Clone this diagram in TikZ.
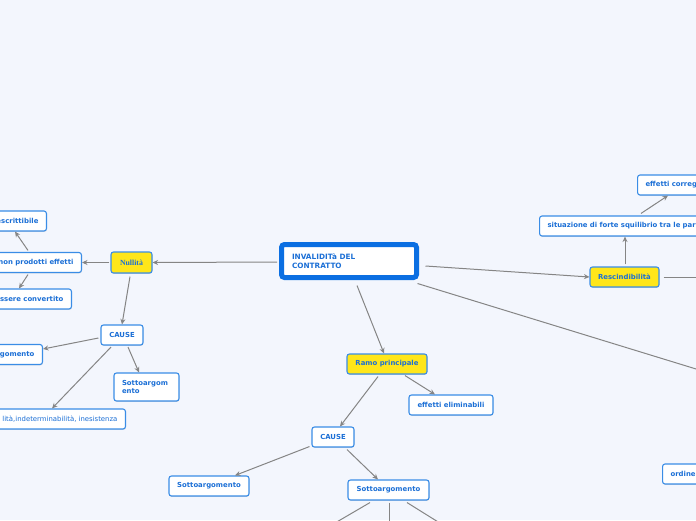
\documentclass[tikz,border=0pt]{standalone}
\usepackage{fontspec}
\setmainfont{DejaVu Sans}
\newfontfamily\serifb{Liberation Serif}
\usetikzlibrary{calc,arrows.meta,shadows}
\definecolor{bg}{HTML}{F3F6FD}
\definecolor{bd}{HTML}{3A8DE6}
\definecolor{tx}{HTML}{1B6FD6}
\definecolor{yl}{HTML}{FFE61A}
\definecolor{cb}{HTML}{0B6FE2}
\definecolor{ar}{HTML}{858585}
\tikzset{
  topic/.style={draw=bd, line width=1.1pt, fill=white, rounded corners=2.5pt, text=tx,
    font=\bfseries\fontsize{6.9}{8.5}\selectfont, inner xsep=0pt, inner ysep=0pt,
    minimum height=20pt, drop shadow={shadow xshift=0.4pt, shadow yshift=-0.9pt, opacity=0.25}},
  maintopic/.style={topic, fill=yl},
  clipl/.style={topic, anchor=east, inner xsep=8pt},
  clipr/.style={topic, anchor=west, inner xsep=8pt, text width=200pt, align=left},
  arr/.style={draw=ar, line width=1pt, -{Stealth[length=5.5pt,width=5pt]}},
  ln/.style={draw=ar, line width=1pt},
}
\begin{document}
\begin{tikzpicture}[x=1pt,y=-1pt]
\useasboundingbox (0,0) rectangle (696,520);
\fill[bg] (0,0) rectangle (696,520);
\clip (0,0) rectangle (696,520);

% central
\node[topic, draw=cb, line width=5pt, rounded corners=3pt, minimum width=135pt, minimum height=33pt,
  text width=114pt, align=left, font=\bfseries\fontsize{7.3}{8.3}\selectfont] (c) at (349,261) {INVALIDITà DEL\\CONTRATTO};

% left branch
\node[maintopic, minimum width=41pt, minimum height=21pt, font=\serifb\bfseries\fontsize{7.8}{9}\selectfont] (null) at (131.5,262.5) {Nullità};
\node[clipl] (esc) at (47,221) {escrittibile};
\node[clipl] (np) at (82,262.5) {non prodotti effetti};
\node[clipl] (ess) at (72,299) {essere convertito};
\node[topic, minimum width=42pt] (causeL) at (122,335) {CAUSE};
\node[clipl] (gom) at (43,354.5) {gomento};
\node[topic, minimum width=65pt, minimum height=28pt, text width=49pt, align=left] (saL2) at (146.5,387) {Sottoargom\\ento};
\node[clipl, font=\fontsize{6.9}{8.5}\selectfont] (bot) at (126,419) {lità,indeterminabilità, inesistenza};

% right branch
\node[maintopic, minimum width=69pt] (resc) at (624.5,277) {Rescindibilità};
\node[clipr] (sit) at (539,226) {situazione di forte squilibrio tra le par};
\node[clipr] (ec) at (637,185) {effetti correg};
\node[clipr] (ord) at (662,474) {ordine};

% bottom branch
\node[maintopic, minimum width=80pt] (ramo) at (387,364) {Ramo principale};
\node[topic, minimum width=84pt] (eff) at (451,405) {effetti eliminabili};
\node[topic, minimum width=42pt] (causeM) at (333,437) {CAUSE};
\node[topic, minimum width=81pt] (saM) at (388.5,490) {Sottoargomento};
\node[topic, minimum width=80pt] (saL) at (209,486) {Sottoargomento};

% off-screen ends
\coordinate (offR) at (720,277);
\coordinate (offD) at (730,379.4);
\coordinate (offB1) at (323,530);
\coordinate (offB2) at (389,530);
\coordinate (offB3) at (451,530);

% connectors
\draw[arr] ($(c.west)+(-2,1)$) -- (null.east);
\draw[arr] ($(null.west)+(-1,0)$) -- (np.east);
\draw[arr] ($(np.north east)+(-54,-1.5)$) -- ($(esc.south east)+(-32,0)$);
\draw[arr] ($(np.south east)+(-54,1.5)$) -- ($(ess.north east)+(-53,0)$);
\draw[arr] ($(null.south)+(-1.5,3)$) -- (causeL.north);
\draw[arr] ($(causeL.west)+(-2,3)$) -- ($(gom.east)+(0,-5.5)$);
\draw[arr] ($(causeL.south)+(-11,1.5)$) -- ($(bot.north east)+(-74,0)$);
\draw[arr] ($(causeL.south)+(6,1.5)$) -- ($(saL2.north)+(-7.5,0)$);

\draw[arr] ($(c.east)+(6.5,5)$) -- (resc.west);
\draw[arr] ($(resc.north)+(0.5,-2)$) -- ($(sit.south west)+(86,0)$);
\draw[arr] ($(sit.north west)+(102,-2)$) -- ($(ec.south west)+(31,0)$);
\draw[ln] ($(resc.east)+(4,0)$) -- (offR);
\draw[ln] ($(c.south east)+(-1.5,3.5)$) -- (offD);

\draw[arr] ($(c.south)+(8,5.5)$) -- ($(ramo.north)+(-3,0)$);
\draw[arr] ($(ramo.south)+(-9,2)$) -- ($(causeM.north)+(7,0)$);
\draw[arr] ($(ramo.south)+(18,1)$) -- ($(eff.north)+(-16,0)$);
\draw[arr] ($(causeM.south)+(14,2)$) -- ($(saM.north)+(-10.5,0)$);
\draw[arr] ($(causeM.south west)+(-2,-1)$) -- ($(saL.north)+(26,0)$);
\draw[ln] ($(saM.south)+(-18.5,2)$) -- (offB1);
\draw[ln] ($(saM.south)+(0.5,2)$) -- (offB2);
\draw[ln] ($(saM.south)+(18.5,2)$) -- (offB3);
\end{tikzpicture}
\end{document}
